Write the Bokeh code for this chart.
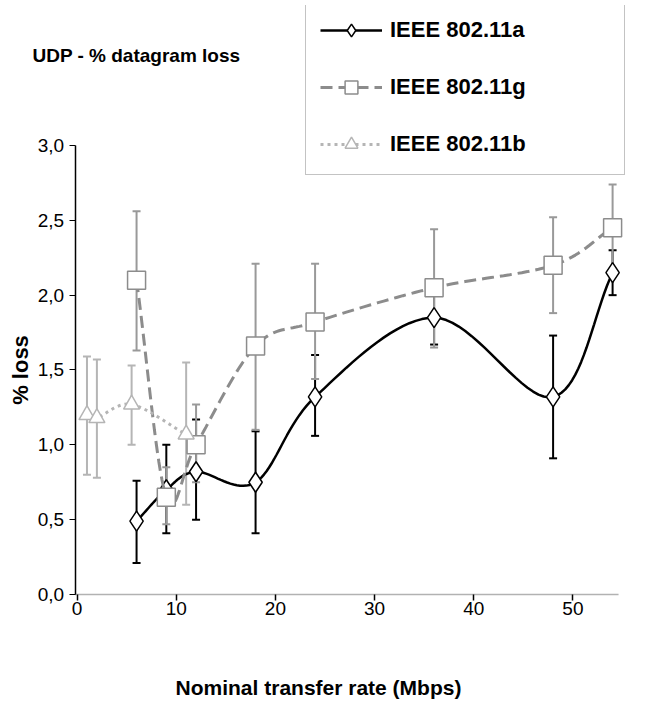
import numpy as np
from bokeh.plotting import figure
from bokeh.models import Whisker, ColumnDataSource, Legend, LegendItem, Label, FixedTicker, Range1d, LinearAxis, BoxAnnotation
from bokeh.embed import file_html
from bokeh.resources import INLINE

a_x = [6, 9, 12, 18, 24, 36, 48, 54]
a_y = [0.49, 0.70, 0.82, 0.75, 1.32, 1.85, 1.32, 2.15]
a_lo = [0.21, 0.41, 0.50, 0.41, 1.06, 1.67, 0.91, 2.00]
a_hi = [0.76, 1.00, 1.17, 1.09, 1.60, 2.00, 1.73, 2.30]
g_x = [6, 9, 12, 18, 24, 36, 48, 54]
g_y = [2.10, 0.65, 1.00, 1.66, 1.82, 2.05, 2.20, 2.45]
g_lo = [1.63, 0.47, 0.75, 1.10, 1.44, 1.65, 1.88, 2.15]
g_hi = [2.56, 0.85, 1.27, 2.21, 2.21, 2.44, 2.52, 2.74]
b_x = [1, 2, 5.5, 11]
b_y = [1.20, 1.18, 1.27, 1.07]
b_lo = [0.80, 0.78, 1.00, 0.60]
b_hi = [1.59, 1.57, 1.53, 1.55]
y_ticks = [0, 0.5, 1.0, 1.5, 2.0, 2.5, 3.0]
y_tick_labels = ["0,0", "0,5", "1,0", "1,5", "2,0", "2,5", "3,0"]
x_ticks = [0, 10, 20, 30, 40, 50]

def spline(xs, ys, n=20):
    xs = np.asarray(xs, float); ys = np.asarray(ys, float)
    px = np.concatenate([[2*xs[0]-xs[1]], xs, [2*xs[-1]-xs[-2]]])
    py = np.concatenate([[2*ys[0]-ys[1]], ys, [2*ys[-1]-ys[-2]]])
    ox, oy = [], []
    for i in range(1, len(px)-2):
        t = np.linspace(0, 1, n, endpoint=False)
        for P, out in ((px, ox), (py, oy)):
            p0, p1, p2, p3 = P[i-1], P[i], P[i+1], P[i+2]
            out.extend(0.5*((2*p1) + (-p0+p2)*t + (2*p0-5*p1+4*p2-p3)*t**2 + (-p0+3*p1-3*p2+p3)*t**3))
    ox.append(xs[-1]); oy.append(ys[-1])
    return ox, oy

F = "Liberation Sans"
p = figure(width=636, height=708, output_backend="svg", toolbar_location=None,
           x_range=Range1d(-7.72, 56.41), y_range=Range1d(-0.1, 3.935), y_axis_location=None,
           min_border_left=0, min_border_right=0, min_border_top=5, min_border_bottom=99)
p.outline_line_color = None
p.grid.visible = False

yax = LinearAxis(fixed_location=-0.2)
p.add_layout(yax, "left")

# x axis line at y = 0
p.add_layout(BoxAnnotation(left=-0.2, right=54.6, bottom=0, top=0, fill_alpha=0,
                           line_color="black", line_width=1.5))

def series(xs, ys, lo, hi, col, ecol, dash, w, marker, size):
    sx, sy = spline(xs, ys)
    r1 = p.line(sx, sy, line_color=col, line_width=w, line_dash=dash)
    src = ColumnDataSource(dict(x=xs, lo=lo, hi=hi))
    wk = Whisker(source=src, base="x", lower="lo", upper="hi", line_color=ecol, line_width=2)
    wk.upper_head.line_color = ecol; wk.lower_head.line_color = ecol
    wk.upper_head.size = 8; wk.lower_head.size = 8
    wk.upper_head.line_width = 2; wk.lower_head.line_width = 2
    p.add_layout(wk)
    r2 = p.scatter(xs, ys, marker=marker, size=size, fill_color="white", line_color=col, line_width=1.5)
    return r1, r2

la = series(a_x, a_y, a_lo, a_hi, "black", "black", "solid", 2.5, "diamond", 20)
lg = series(g_x, g_y, g_lo, g_hi, "#8c8c8c", "#999999", "12 6", 3, "square", 18)
lb = series(b_x, b_y, b_lo, b_hi, "#b5b5b5", "#b5b5b5", "3 4", 3, "triangle", 16)

yax.ticker = FixedTicker(ticks=y_ticks)
yax.bounds = (0, 3.0)
yax.major_label_overrides = {t: l for t, l in zip(y_ticks, y_tick_labels)}
p.xaxis.ticker = FixedTicker(ticks=x_ticks)
for ax in (p.xaxis[0], yax):
    ax.major_label_text_font = F
    ax.major_label_text_font_size = "19px"
    ax.major_label_text_color = "black"
    ax.axis_line_color = "black"
    ax.axis_line_width = 1.5
    ax.major_tick_in = 0
    ax.major_tick_out = 6
    ax.minor_tick_out = 0
    ax.minor_tick_in = 0
    ax.axis_label_text_font = F
    ax.axis_label_text_font_style = "bold"
    ax.axis_label_text_color = "black"
xa = p.xaxis[0]
xa.axis_line_color = None
xa.major_tick_in = 15
xa.major_tick_out = -9
xa.major_tick_line_width = 1.5
xa.major_label_standoff = -8
xa.axis_label = "Nominal transfer rate (Mbps)"
xa.axis_label_text_font_size = "21px"
xa.axis_label_standoff = 58

p.add_layout(Label(x=-5.7, y=1.5, text="% loss", text_font=F, angle=1.5708, text_color="black",
                   text_font_style="bold", text_font_size="22px", text_align="center",
                   text_baseline="middle"))
p.add_layout(Label(x=-4.5, y=3.6, text="UDP - % datagram loss", text_font=F, text_color="black",
                   text_font_style="bold", text_font_size="19px", text_baseline="middle"))

leg = Legend(items=[LegendItem(label="IEEE 802.11a", renderers=list(la)),
                    LegendItem(label="IEEE 802.11g", renderers=list(lg)),
                    LegendItem(label="IEEE 802.11b", renderers=list(lb))],
             location=(305, 434), label_text_font=F, label_text_font_style="bold",
             label_text_color="black",
             label_text_font_size="22px", glyph_width=62, glyph_height=32, spacing=25,
             padding=14, border_line_color="#888888", label_standoff=8, margin=0,
             label_width=220)
p.add_layout(leg)

open("out.html", "w").write(file_html(p, INLINE))
